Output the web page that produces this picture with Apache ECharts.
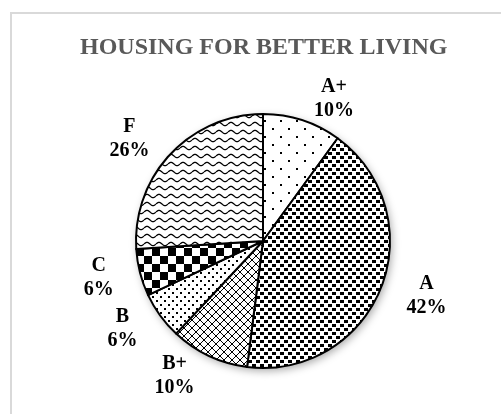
<!DOCTYPE html>
<html>
<head>
<meta charset="utf-8">
<script src="https://cdn.jsdelivr.net/npm/echarts@6/dist/echarts.min.js"></script>
<style>
    html, body { margin: 0; padding: 0; background: #fff; }
    #chart { width: 501px; height: 414px; }
</style>
</head>
<body>
<div id="chart"></div>
<script>
    const categories = ['A+', 'A', 'B+', 'B', 'C', 'F'];
    const shares = [10, 42, 10, 6, 6, 26];
    const titleText = 'HOUSING FOR BETTER LIVING';

    const serif = '"Liberation Serif", "Times New Roman", serif';

    // small repeating tiles, like the Excel pattern fills
    function makeTile(w, h, draw) {
        let c = document.createElement('canvas');
        c.width = w;
        c.height = h;
        let ctx = c.getContext('2d');
        ctx.fillStyle = '#fff';
        ctx.fillRect(0, 0, w, h);
        ctx.fillStyle = '#000';
        ctx.strokeStyle = '#000';
        draw(ctx);
        return { image: c, repeat: 'repeat' };
    }

    let patterns = {
        'A+': makeTile(16, 16, ctx => {
            ctx.fillRect(0, 0, 2, 2);
            ctx.fillRect(8, 8, 2, 2);
        }),
        'A': makeTile(8, 8, ctx => {
            ctx.fillRect(0, 0, 4, 3);
            ctx.fillRect(4, 4, 4, 3);
        }),
        'B+': makeTile(8, 8, ctx => {
            for (let i = 0; i < 8; i++) {
                ctx.fillRect(i, i, 1, 1);
                ctx.fillRect(7 - i, i, 1, 1);
            }
        }),
        'B': makeTile(8, 8, ctx => {
            ctx.fillRect(0, 0, 2, 2);
            ctx.fillRect(4, 4, 2, 2);
        }),
        'C': makeTile(16, 16, ctx => {
            ctx.fillRect(0, 0, 8, 8);
            ctx.fillRect(8, 8, 8, 8);
        }),
        'F': makeTile(12, 8, ctx => {
            ctx.lineWidth = 1.3;
            ctx.beginPath();
            for (let x = 0; x <= 12; x += 0.5) {
                let y = 4 - 1.6 * Math.sin(x / 12 * Math.PI * 2);
                if (x === 0) ctx.moveTo(x, y); else ctx.lineTo(x, y);
            }
            ctx.stroke();
        })
    };

    let option = {
        animation: false,
        backgroundColor: '#fff',
        title: {
            text: titleText,
            left: 80,
            top: 36,
            padding: 0,
            textStyle: {
                fontFamily: serif,
                fontSize: 24,
                fontWeight: 'bold',
                color: '#595959'
            }
        },
        graphic: [{
            type: 'rect',
            silent: true,
            shape: { x: 11, y: 13, width: 600, height: 600 },
            style: { fill: 'none', stroke: '#d9d9d9', lineWidth: 2 }
        }],
        series: [
            {
                // white disc underneath, only for the soft shadow
                type: 'pie',
                radius: 127,
                center: [263, 241],
                silent: true,
                z: 1,
                label: { show: false },
                labelLine: { show: false },
                itemStyle: {
                    color: '#fff',
                    shadowBlur: 8,
                    shadowColor: 'rgba(0,0,0,0.35)',
                    shadowOffsetX: 2,
                    shadowOffsetY: 3
                },
                data: [{ name: '', value: 1 }]
            },
            {
                type: 'pie',
                radius: 127,
                center: [263, 241],
                startAngle: 90,
                clockwise: true,
                avoidLabelOverlap: false,
                z: 2,
                emphasis: { disabled: true },
                itemStyle: {
                    borderColor: '#000',
                    borderWidth: 2
                },
                label: {
                    show: true,
                    position: 'outside',
                    formatter: '{t|{b}}\n{t|{c}%}',
                    rich: {
                        t: {
                            align: 'center',
                            fontFamily: serif,
                            fontSize: 20,
                            fontWeight: 'bold',
                            lineHeight: 24,
                            color: '#000'
                        }
                    }
                },
                labelLine: { show: false, length: 22, length2: 0 },
                data: categories.map((name, i) => ({
                    name: name,
                    value: shares[i],
                    itemStyle: { color: patterns[name] }
                }))
            }
        ]
    };

    let myChart = echarts.init(document.getElementById('chart'));
    myChart.setOption(option);
</script>
</body>
</html>
